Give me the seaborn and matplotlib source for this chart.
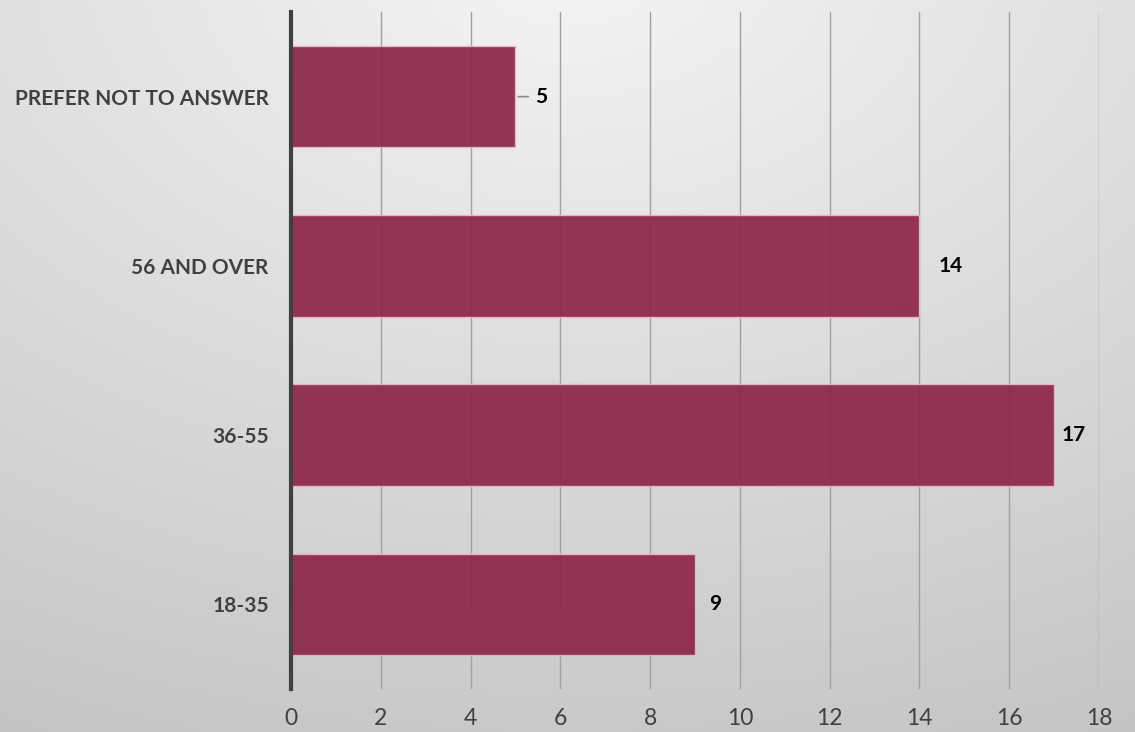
import numpy as np
import pandas as pd
import matplotlib
matplotlib.use("Agg")
import matplotlib.pyplot as plt
import seaborn as sns

categories = ["PREFER NOT TO ANSWER", "56 AND OVER", "36-55", "18-35"]
values = [5, 14, 17, 9]
xticks = [0, 2, 4, 6, 8, 10, 12, 14, 16, 18]
# styling: pixel offsets of the value labels from bar ends
label_offsets = [20, 19, 7, 14]

sns.set_theme(style="white")
plt.rcParams['font.family'] = ['Lato', 'DejaVu Sans']

W, H = 1135, 732
fig = plt.figure(figsize=(W / 100, H / 100), dpi=100)

# gradient background
bg = fig.add_axes([0, 0, 1, 1], zorder=-10)
yy, xx = np.mgrid[0:H, 0:W]
d = np.sqrt(((xx - W * 0.5) / W) ** 2 + ((yy + 0.05 * H) / H) ** 2)
d = d / d.max()
g = 0.96 - 0.19 * d
img = np.dstack([g, g, g])
bg.imshow(img, aspect='auto', extent=[0, 1, 0, 1])
bg.axis('off')

left, right = 291 / W, 1099 / W
bottom, top = (H - 689) / H, (H - 12) / H
ax = fig.add_axes([left, bottom, right - left, top - bottom])
ax.patch.set_alpha(0)

df = pd.DataFrame({"category": categories, "value": values})
sns.barplot(data=df, x="value", y="category", orient="h", color="#8c2747",
            saturation=1, width=0.6, edgecolor="#e8b8c6", linewidth=1.0,
            alpha=0.93, ax=ax, zorder=3)

ax.set_xlim(0, 18)
ax.set_ylim(3.5, -0.5)
ax.set_xticks(xticks)
ax.set_xticklabels([str(t) for t in xticks])
ax.xaxis.grid(True, color="#a0a0a0", linewidth=1.0, zorder=1)
ax.set_axisbelow(True)
ax.yaxis.grid(False)
for s in ["top", "right", "bottom"]:
    ax.spines[s].set_visible(False)
ax.spines["left"].set_color("#404040")
ax.spines["left"].set_linewidth(3)
ax.spines["left"].set_zorder(5)
ax.tick_params(axis="x", length=0, pad=14, labelsize=16.5, labelcolor="#404040")
ax.tick_params(axis="y", length=0, pad=16, labelsize=15, labelcolor="#404040")
for lab in ax.get_yticklabels():
    lab.set_fontweight("bold")
ax.set_xlabel("")
ax.set_ylabel("")

# data labels
for i, v in enumerate(values):
    ax.annotate(str(v), xy=(v, i), xytext=(label_offsets[i], 0), textcoords="offset pixels",
                ha="left", va="center", fontsize=15, fontweight="bold", color="black", zorder=6)
    if v == min(values):
        ax.annotate("", xy=(v, i), xytext=(13, 0), textcoords="offset pixels",
                    arrowprops=dict(arrowstyle="-", color="#8a8a8a", lw=1.2,
                                    shrinkA=0, shrinkB=2))

fig.savefig("out.png", dpi=100)
